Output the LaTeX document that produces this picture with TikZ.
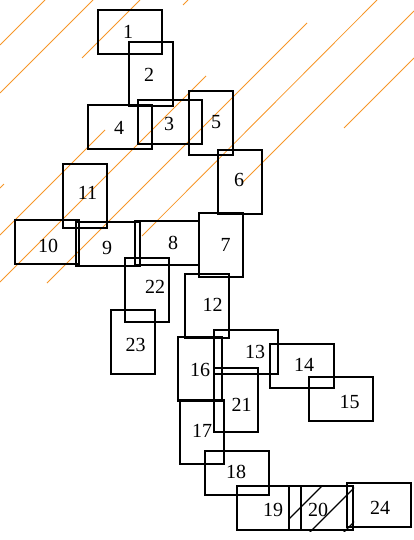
\documentclass[tikz,border=0pt]{standalone}
\usepackage{fontspec}
\setmainfont{Liberation Serif}
\definecolor{hatchorange}{RGB}{247,150,40}
\tikzset{
  hbox/.style={draw,line width=2pt,minimum width=64pt,minimum height=44pt,inner sep=0pt},
  vbox/.style={draw,line width=2pt,minimum width=44pt,minimum height=64pt,inner sep=0pt},
  num/.style={inner sep=0pt,font=\fontsize{20}{20}\selectfont},
  hatch/.style={hatchorange,line width=0.8pt}
}
\begin{document}
\begin{tikzpicture}[x=1pt,y=-1pt,line join=miter]
\useasboundingbox (0,0) rectangle (414,540);

% orange hatch segments
\draw[hatch] (0,45)--(45,0);
\draw[hatch] (0,93)--(93,0);
\draw[hatch] (82,58)--(140,0);
\draw[hatch] (0,188)--(4,184);
\draw[hatch] (183,5)--(188,0);
\draw[hatch] (0,235)--(105,130);
\draw[hatch] (0,282)--(206,76);
\draw[hatch] (47,283)--(307,23);
\draw[hatch] (142,236)--(377,0);
\draw[hatch] (243,182)--(414,11);
\draw[hatch] (344,128)--(414,58);

% boxes
\node[hbox] (b1)  at (130,32) {};
\node[vbox] (b2)  at (151,74) {};
\node[hbox] (b3)  at (170,122) {};
\node[hbox] (b4)  at (120,127) {};
\node[vbox] (b5)  at (211,123) {};
\node[vbox] (b6)  at (240,182) {};
\node[vbox] (b7)  at (221,245) {};
\node[hbox] (b8)  at (167,243) {};
\node[hbox] (b9)  at (108,244) {};
\node[hbox] (b10) at (47,242) {};
\node[vbox] (b11) at (85,196) {};
\node[vbox] (b12) at (207,306) {};
\node[hbox] (b13) at (246,352) {};
\node[hbox] (b14) at (302,366) {};
\node[hbox] (b15) at (341,399) {};
\node[vbox] (b16) at (200,369) {};
\node[vbox] (b17) at (202,432) {};
\node[hbox] (b18) at (237,473) {};
\node[hbox] (b19) at (269,508) {};
\node[hbox] (b20) at (321,508) {};
\node[vbox] (b21) at (236,400) {};
\node[vbox] (b22) at (147,290) {};
\node[vbox] (b23) at (133,342) {};
\node[hbox] (b24) at (379,505) {};

% hatching in box 20
\begin{scope}
  \clip (b20.north west) rectangle (b20.south east);
  \draw[line width=1.2pt] (270,538)--(340,468);
  \draw[line width=1.2pt] (302,540)--(372,470);
  \draw[line width=1.2pt] (336,540)--(406,470);
\end{scope}

% numbers
\node[num] (t1)  at (128,32) {1};
\node[num] (t2)  at (149,75) {2};
\node[num] (t3)  at (169,124) {3};
\node[num] (t4)  at (119,128) {4};
\node[num] (t5)  at (216,122) {5};
\node[num] (t6)  at (239,180) {6};
\node[num] (t7)  at (225.5,245) {7};
\node[num] (t8)  at (173,243) {8};
\node[num] (t9)  at (107,248) {9};
\node[num] (t10) at (48,246) {10};
\node[num] (t11) at (87.5,193) {11};
\node[num] (t12) at (212.5,305) {12};
\node[num] (t13) at (255,351.5) {13};
\node[num] (t14) at (304,365) {14};
\node[num] (t15) at (349.5,401.5) {15};
\node[num] (t16) at (200,370) {16};
\node[num] (t17) at (202,431) {17};
\node[num] (t18) at (236,471.5) {18};
\node[num] (t19) at (273,510) {19};
\node[num] (t20) at (318,510) {20};
\node[num] (t21) at (241.5,405) {21};
\node[num] (t22) at (155,287) {22};
\node[num] (t23) at (135.5,345) {23};
\node[num] (t24) at (380,508) {24};
\end{tikzpicture}
\end{document}
